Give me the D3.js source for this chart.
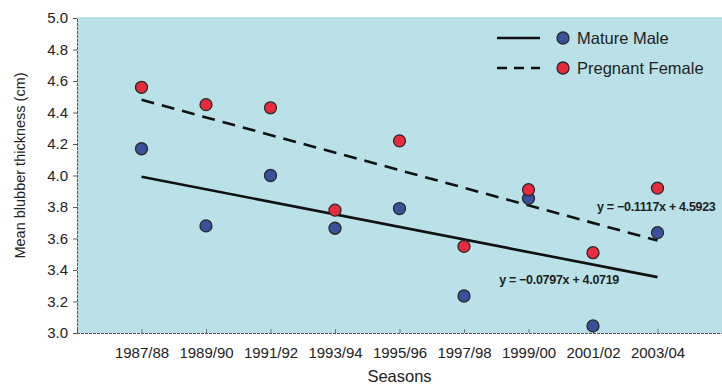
<!DOCTYPE html>
<html>
<head>
<meta charset="utf-8">
<script src="https://cdn.jsdelivr.net/npm/d3@7"></script>
<style>
  html, body { margin: 0; padding: 0; background: #fff; }
  svg { display: block; font-family: "Liberation Sans", Arial, sans-serif; }
</style>
</head>
<body>
<svg id="chart" width="722" height="385"></svg>
<script>
// Seasons on the x axis
const seasons = ["1987/88", "1989/90", "1991/92", "1993/94", "1995/96",
                 "1997/98", "1999/00", "2001/02", "2003/04"]

// Mean blubber thickness (cm)
const matureMale     = [4.17, 3.68, 4.00, 3.665, 3.79, 3.235, 3.855, 3.045, 3.637]
const pregnantFemale = [4.56, 4.45, 4.43, 3.78, 4.22, 3.55, 3.91, 3.51, 3.92]

// Trend lines as printed on the chart (x = season index 1..9)
const maleFit   = {slope: -0.0797, intercept: 4.0719, label: "y = \u22120.0797x + 4.0719"}
const femaleFit = {slope: -0.1117, intercept: 4.5923, label: "y = \u22120.1117x + 4.5923"}

const yTicks = [3.0, 3.2, 3.4, 3.6, 3.8, 4.0, 4.2, 4.4, 4.6, 4.8, 5.0]

const svg = d3.select("#chart")

/* eslint-disable no-multi-spaces */
const margin = {top: 18, right: 0, bottom: 52, left: 77}
const width  = 722 - margin.left - margin.right
const height = 385 - margin.top - margin.bottom
/* eslint-enable no-multi-spaces */

const g = svg.append("g")
    .attr("transform", `translate(${margin.left},${margin.top})`)

const x = d3.scalePoint()
    .domain(seasons)
    .range([0, width])
    .padding(1)

const y = d3.scaleLinear()
    .domain([3.0, 5.0])
    .range([height, 0])

// plot background
g.append("rect")
    .attr("x", 0)
    .attr("y", -1)
    .attr("width", width)
    .attr("height", height + 1)
    .attr("fill", "#b9e1e7")

// y axis
const yAxis = g.append("g")
    .call(d3.axisLeft(y).tickValues(yTicks).tickFormat(d3.format(".1f")).tickSize(4).tickPadding(5))
yAxis.select(".domain").attr("stroke", "#555").attr("stroke-dasharray", "3,1")
yAxis.selectAll(".tick line").attr("stroke", "#555")
yAxis.selectAll("text").attr("font-size", 15).attr("fill", "#222")

// x axis (ticks point inward)
const xAxis = g.append("g")
    .attr("transform", `translate(0,${height})`)
    .call(d3.axisBottom(x).tickSize(-4).tickPadding(14))
xAxis.select(".domain").attr("stroke", "#555").attr("stroke-dasharray", "3,1")
xAxis.selectAll(".tick line").attr("stroke", "#777")
xAxis.selectAll("text").attr("font-size", 15).attr("fill", "#222")

// axis titles
svg.append("text")
    .attr("transform", `translate(25,${margin.top + height / 2 - 10}) rotate(-90)`)
    .attr("text-anchor", "middle")
    .attr("font-size", 14.5)
    .attr("fill", "#222")
    .text("Mean blubber thickness (cm)")

svg.append("text")
    .attr("x", margin.left + x(seasons[4]))
    .attr("y", 382)
    .attr("text-anchor", "middle")
    .attr("font-size", 16.5)
    .attr("fill", "#222")
    .text("Seasons")

// trend lines
function fitLine(fit, dash) {
  const first = seasons[0]
  const last = seasons[seasons.length - 1]
  g.append("line")
      .attr("x1", x(first))
      .attr("x2", x(last))
      .attr("y1", y(fit.intercept + fit.slope * 1))
      .attr("y2", y(fit.intercept + fit.slope * seasons.length))
      .attr("stroke", "#111")
      .attr("stroke-width", 2.6)
      .attr("stroke-dasharray", dash)
}
fitLine(maleFit, null)
fitLine(femaleFit, "13,8")

// points
function dots(values, color) {
  g.selectAll(null).data(values).enter()
    .append("circle")
      .attr("cx", (d, i) => x(seasons[i]))
      .attr("cy", d => y(d))
      .attr("r", 6)
      .attr("fill", color)
      .attr("stroke", "#2a2a2a")
      .attr("stroke-width", 1.3)
}
dots(matureMale, "#3b4f9c")
dots(pregnantFemale, "#e82a3c")

// equations
g.append("text")
    .attr("x", x(seasons[8]) + 58)
    .attr("y", y(3.775))
    .attr("text-anchor", "end")
    .attr("font-size", 12.5)
    .attr("font-weight", "bold")
    .attr("letter-spacing", -0.3)
    .attr("fill", "#222")
    .text(femaleFit.label)

g.append("text")
    .attr("x", x(seasons[7]) + 26)
    .attr("y", y(3.31))
    .attr("text-anchor", "end")
    .attr("font-size", 12.5)
    .attr("font-weight", "bold")
    .attr("letter-spacing", -0.3)
    .attr("fill", "#222")
    .text(maleFit.label)

// legend
const legendItems = [
  {name: "Mature Male", color: "#3b4f9c", dash: null},
  {name: "Pregnant Female", color: "#e82a3c", dash: "10,7"}
]
const legend = svg.append("g").attr("transform", "translate(497,38)")
legendItems.forEach((item, i) => {
  const row = legend.append("g").attr("transform", `translate(0,${i * 30})`)
  row.append("line")
      .attr("x1", 0).attr("x2", 43)
      .attr("y1", 0).attr("y2", 0)
      .attr("stroke", "#111")
      .attr("stroke-width", 2.6)
      .attr("stroke-dasharray", item.dash)
  row.append("circle")
      .attr("cx", 66).attr("cy", 0).attr("r", 6)
      .attr("fill", item.color)
      .attr("stroke", "#2a2a2a")
      .attr("stroke-width", 1.3)
  row.append("text")
      .attr("x", 80).attr("y", 6)
      .attr("font-size", 16.5)
      .attr("fill", "#222")
      .text(item.name)
})
</script>
</body>
</html>
